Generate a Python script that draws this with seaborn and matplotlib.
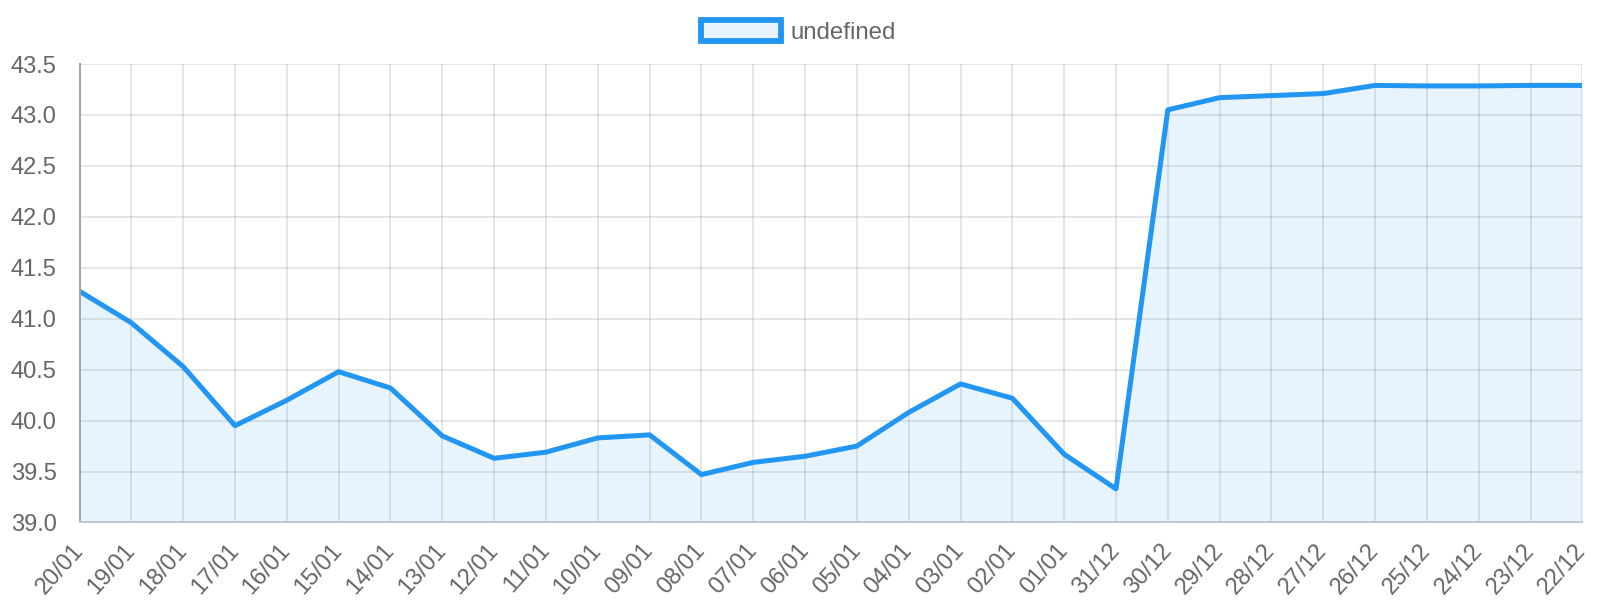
import matplotlib
matplotlib.use("Agg")
import matplotlib.pyplot as plt
import seaborn as sns
import pandas as pd
from matplotlib.patches import Patch

days = ["20/01", "19/01", "18/01", "17/01", "16/01", "15/01", "14/01", "13/01",
        "12/01", "11/01", "10/01", "09/01", "08/01", "07/01", "06/01", "05/01",
        "04/01", "03/01", "02/01", "01/01", "31/12", "30/12", "29/12", "28/12",
        "27/12", "26/12", "25/12", "24/12", "23/12", "22/12"]
values = [41.27, 40.96, 40.53, 39.95, 40.20, 40.48, 40.32, 39.85,
          39.63, 39.69, 39.83, 39.86, 39.47, 39.59, 39.65, 39.75,
          40.08, 40.36, 40.22, 39.67, 39.33, 43.05, 43.17, 43.19,
          43.21, 43.29, 43.285, 43.285, 43.29, 43.29]
series_name = "undefined"
y_ticks = [39.0, 39.5, 40.0, 40.5, 41.0, 41.5, 42.0, 42.5, 43.0, 43.5]

line_color = "#2196F3"
text_color = "#666666"

sns.set_theme(style="white")
plt.rcParams["font.family"] = ["Liberation Sans", "DejaVu Sans"]

df = pd.DataFrame({"day": days, "value": values})

fig = plt.figure(figsize=(16, 6), dpi=100)
ax = fig.add_axes([0.0497, 0.1292, 0.9393, 0.7641])

# light area under the curve
ax.fill_between(df["day"], df["value"], 39.0, color=line_color, alpha=0.1,
                lw=0, zorder=1)
sns.lineplot(data=df, x="day", y="value", ax=ax, color=line_color,
             linewidth=3.6, sort=False, zorder=3)

ax.set_xlim(0, len(days) - 1)
ax.set_ylim(39.0, 43.5)
ax.set_yticks(y_ticks)
ax.set_yticklabels([f"{v:.1f}" for v in y_ticks])
ax.set_xlabel("")
ax.set_ylabel("")

for side in ["top", "right"]:
    ax.spines[side].set_visible(False)
ax.spines["left"].set_color("#A3A3A3")
ax.spines["bottom"].set_color("#C2C7CE")
ax.spines["left"].set_linewidth(1.4)
ax.spines["bottom"].set_linewidth(1.4)
ax.spines["left"].set_zorder(4)
ax.spines["bottom"].set_zorder(4)

ax.tick_params(axis="both", colors="#D9D9D9", length=14.4, width=1.3,
               labelcolor=text_color, labelsize=17, direction="out",
               grid_color="#000000", grid_alpha=0.11, grid_linewidth=1.3)
ax.grid(True, zorder=2)
ax.tick_params(axis="y", pad=2)
ax.tick_params(axis="x", pad=3)
plt.setp(ax.get_xticklabels(), rotation=48, ha="right", va="center",
         rotation_mode="anchor")

handle = Patch(facecolor=(33 / 255, 150 / 255, 243 / 255, 0.1),
               edgecolor=line_color, linewidth=4.2)
fig.legend(handles=[handle], labels=[series_name], loc="center",
           bbox_to_anchor=(0.499, 0.947), frameon=False, fontsize=17.3,
           handlelength=3.33, handleheight=1.0, labelcolor=text_color,
           handletextpad=0.42)

fig.savefig("out.png", dpi=100, facecolor="white")
